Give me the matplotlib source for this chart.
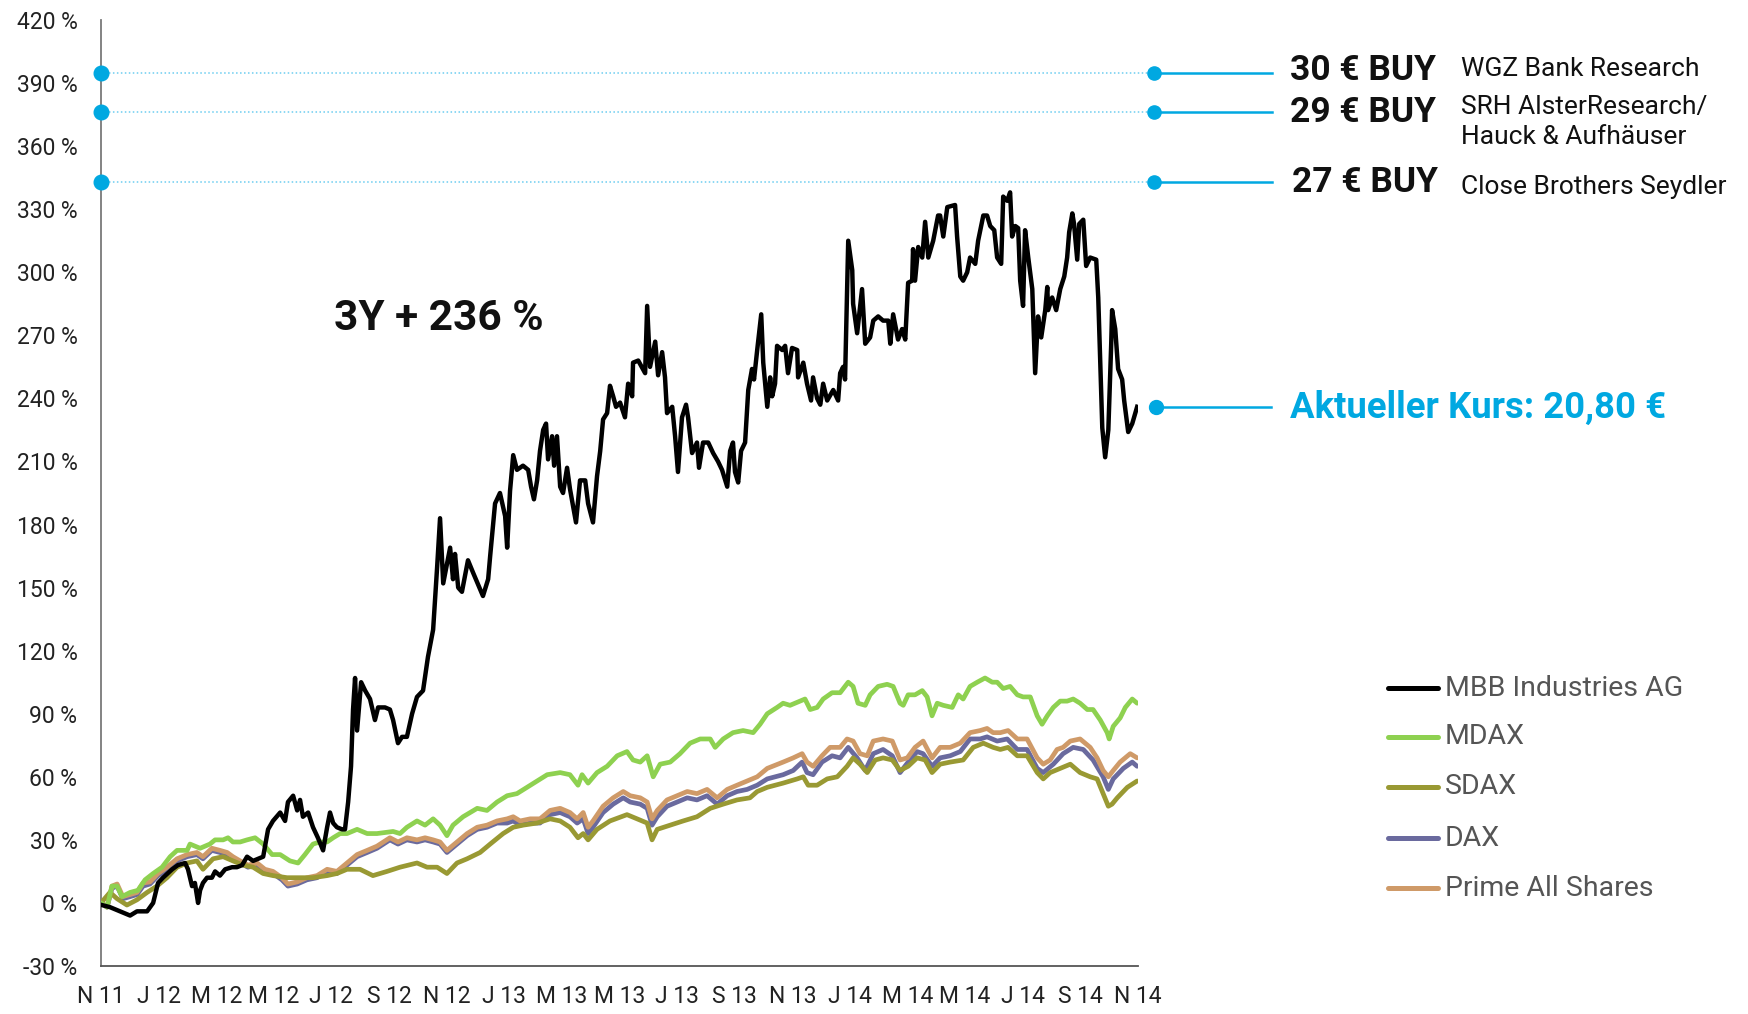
import matplotlib
matplotlib.use("Agg")
import matplotlib.pyplot as plt
from matplotlib.lines import Line2D

plt.rcParams['font.family'] = ['Roboto', 'DejaVu Sans']

# ---------------- data (months since Nov 2011, performance in %) ----------------
mbb_t = [0.03, 0.31, 0.66, 1.01, 1.25, 1.60, 1.81, 1.98, 2.15, 2.47, 2.67, 2.92, 3.02, 3.16, 3.26, 3.37,
         3.44, 3.54, 3.68, 3.85, 3.96, 4.13, 4.31, 4.55, 4.72, 4.90, 5.07, 5.28, 5.63, 5.80, 5.97, 6.22,
         6.39, 6.49, 6.67, 6.81, 6.91, 7.01, 7.19, 7.36, 7.53, 7.71, 7.85, 7.95, 8.06, 8.19, 8.37, 8.47,
         8.58, 8.68, 8.75, 8.82, 8.89, 9.03, 9.17, 9.34, 9.51, 9.62, 9.86, 10.03, 10.14, 10.31, 10.45,
         10.62, 10.80, 10.97, 11.18, 11.35, 11.53, 11.67, 11.77, 11.88, 12.12, 12.22, 12.29, 12.40, 12.53,
         12.74, 12.92, 13.26, 13.44, 13.51, 13.68, 13.85, 14.03, 14.10, 14.20, 14.31, 14.44, 14.65, 14.83,
         14.93, 15.03, 15.14, 15.24, 15.35, 15.45, 15.52, 15.66, 15.73, 15.83, 15.94, 16.04, 16.18, 16.28,
         16.49, 16.63, 16.81, 16.91, 17.08, 17.22, 17.33, 17.43, 17.57, 17.67, 17.78, 17.88, 18.02, 18.19,
         18.30, 18.44, 18.47, 18.65, 18.89, 18.96, 19.06, 19.24, 19.34, 19.48, 19.58, 19.65, 19.83, 19.93,
         20.03, 20.17, 20.31, 20.38, 20.52, 20.69, 20.76, 20.90, 21.08, 21.25, 21.42, 21.56, 21.74, 21.84,
         21.94, 22.01, 22.12, 22.22, 22.36, 22.47, 22.60, 22.67, 22.78, 22.92, 22.99, 23.13, 23.23, 23.30,
         23.40, 23.47, 23.65, 23.75, 23.85, 23.99, 24.17, 24.20, 24.38, 24.51, 24.65, 24.72, 24.86, 24.97,
         25.07, 25.21, 25.42, 25.59, 25.66, 25.76, 25.83, 25.94, 26.08, 26.11, 26.25, 26.42, 26.53, 26.70,
         26.81, 26.98, 27.15, 27.33, 27.40, 27.50, 27.67, 27.81, 27.92, 28.02, 28.16, 28.19, 28.26, 28.37,
         28.51, 28.61, 28.72, 28.89, 29.06, 29.13, 29.24, 29.38, 29.65, 29.72, 29.83, 29.93, 30.07, 30.17,
         30.35, 30.45, 30.63, 30.76, 30.87, 31.01, 31.11, 31.25, 31.32, 31.46, 31.56, 31.63, 31.74, 31.84,
         31.91, 32.01, 32.08, 32.19, 32.33, 32.43, 32.53, 32.64, 32.78, 32.85, 32.88, 33.02, 33.16, 33.30,
         33.44, 33.54, 33.61, 33.72, 33.78, 33.89, 33.96, 34.10, 34.20, 34.34, 34.55, 34.62, 34.76, 34.86,
         34.97, 35.07, 35.10, 35.21, 35.31, 35.45, 35.52, 35.66, 35.80, 35.97]
mbb_v = [-1, -2, -4, -6, -4, -4, 0, 9.5, 12, 16, 18, 19, 16, 8, 9.5, 0,
         6, 9.5, 12, 12, 15, 13, 16, 17, 17, 18, 22, 20, 22, 35, 39, 43,
         39, 48, 51, 44, 49, 41, 43, 36, 31, 25, 36, 43, 38, 36, 35, 35,
         48, 65, 92, 107, 82, 105, 101, 97, 87, 93, 93, 92, 87, 76, 79,
         79, 90, 98, 101, 117, 130, 160, 183, 152, 169, 154, 166, 150, 148,
         163, 157, 146, 154, 165, 190, 195, 184, 169, 196, 213, 206, 208, 206,
         198, 192, 201, 215, 225, 228, 211, 222, 208, 222, 198, 195, 207, 197,
         181, 201, 201, 190, 181, 203, 215, 230, 233, 246, 241, 236, 238, 231,
         247, 241, 257, 258, 252, 284, 255, 267, 251, 262, 250, 233, 236, 222,
         205, 231, 237, 231, 214, 219, 207, 219, 219, 214, 210, 206, 198, 215,
         219, 205, 200, 215, 219, 244, 254, 249, 263, 280, 257, 236, 250, 241,
         247, 265, 263, 265, 252, 264, 263, 250, 257, 247, 239, 250, 240, 237,
         247, 239, 244, 239, 252, 255, 249, 315, 301, 285, 271, 292, 266, 269,
         277, 279, 277, 277, 266, 280, 268, 273, 268, 295, 296, 311, 296, 312,
         307, 324, 307, 315, 327, 327, 317, 331, 332, 317, 298, 296, 300, 307,
         304, 315, 327, 327, 322, 320, 307, 304, 336, 334, 338, 317, 322, 321,
         296, 284, 320, 307, 292, 252, 279, 269, 282, 293, 282, 288, 282, 292,
         298, 307, 319, 328, 323, 306, 323, 325, 303, 307, 306, 288, 226, 212,
         225, 266, 282, 273, 254, 249, 239, 224, 228, 236]

mdax_t = [0.00, 0.21, 0.38, 0.56, 0.73, 1.01, 1.28, 1.53, 1.81, 2.12, 2.40, 2.64, 2.99, 3.09, 3.44, 3.78,
          3.96, 4.24, 4.41, 4.58, 4.83, 5.07, 5.35, 5.63, 5.94, 6.22, 6.56, 6.84, 7.08, 7.36, 7.60, 7.85,
          8.06, 8.30, 8.54, 8.89, 9.24, 9.58, 10.14, 10.38, 10.62, 10.97, 11.25, 11.53, 11.77, 12.01,
          12.22, 12.57, 13.06, 13.40, 13.75, 14.10, 14.44, 14.79, 15.14, 15.49, 15.94, 16.28, 16.56, 16.70,
          16.91, 17.22, 17.57, 17.92, 18.26, 18.47, 18.72, 18.96, 19.17, 19.41, 19.76, 20.10, 20.45, 20.80,
          21.15, 21.32, 21.60, 21.94, 22.29, 22.64, 22.88, 23.13, 23.47, 23.68, 23.92, 24.27, 24.44, 24.62,
          24.86, 25.07, 25.38, 25.66, 25.94, 26.11, 26.28, 26.53, 26.70, 26.98, 27.29, 27.50, 27.74, 27.85,
          28.02, 28.26, 28.51, 28.68, 28.85, 29.03, 29.24, 29.55, 29.76, 29.93, 30.17, 30.42, 30.69, 30.94,
          31.11, 31.32, 31.56, 31.81, 32.01, 32.26, 32.50, 32.67, 32.85, 33.06, 33.30, 33.54, 33.75, 33.99,
          34.24, 34.44, 34.69, 34.93, 35.00, 35.14, 35.38, 35.56, 35.80, 35.97]
mdax_v = [0, -2, 8, 8, 3, 5, 6, 11, 14, 17, 22, 25, 25, 28, 26, 28,
          30, 30, 31, 29, 29, 30, 31, 28, 23, 23, 20, 19, 23, 28, 29, 29,
          31, 33, 33, 35, 33, 33, 34, 33, 36, 39, 37, 40, 37, 32,
          37, 41, 45, 44, 48, 51, 52, 55, 58, 61, 62, 61, 56, 61,
          57, 62, 65, 70, 72, 68, 67, 70, 60, 66, 67, 71, 76, 78,
          78, 74, 78, 81, 82, 81, 85, 90, 93, 95, 94, 96, 97, 92,
          93, 97, 100, 100, 105, 103, 95, 94, 99, 103, 104, 103, 95, 94,
          99, 99, 101, 98, 89, 95, 94, 93, 99, 97, 103, 105, 107, 105,
          105, 102, 103, 99, 98, 98, 89, 85, 89, 93, 96, 96, 97, 95,
          92, 92, 87, 81, 78, 84, 88, 93, 97, 95]

sdax_t = [0.00, 0.31, 0.56, 0.90, 1.25, 1.60, 1.94, 2.29, 2.64, 2.99, 3.33, 3.54, 3.89, 4.24, 4.58, 4.93,
          5.28, 5.63, 5.97, 6.46, 6.91, 7.36, 7.85, 8.19, 8.54, 8.99, 9.44, 9.93, 10.38, 10.97, 11.32, 11.67,
          12.01, 12.36, 12.71, 13.16, 13.51, 13.96, 14.31, 14.65, 15.14, 15.59, 15.94, 16.28, 16.56, 16.74,
          16.91, 17.22, 17.67, 18.26, 18.61, 18.96, 19.13, 19.31, 19.76, 20.21, 20.69, 21.15, 21.60, 22.08,
          22.53, 22.78, 23.13, 23.68, 24.17, 24.38, 24.55, 24.86, 25.21, 25.56, 25.90, 26.11, 26.35, 26.60,
          26.88, 27.15, 27.47, 27.74, 28.02, 28.33, 28.61, 28.85, 29.13, 29.48, 29.93, 30.28, 30.63, 30.97,
          31.22, 31.49, 31.81, 32.15, 32.50, 32.71, 32.95, 33.30, 33.65, 33.99, 34.34, 34.58, 34.79, 34.97,
          35.10, 35.28, 35.63, 35.97]
sdax_v = [0, 5, 2, -1, 1.5, 5, 8, 12, 17, 19, 20, 16, 21, 22, 20, 18,
          17, 14, 13, 12, 12, 12, 13, 14, 16, 16, 13, 15, 17, 19, 17, 17,
          14, 19, 21, 24, 28, 33, 36, 37, 38, 40, 39, 36, 31, 33,
          30, 35, 39, 42, 40, 38, 30, 35, 37, 39, 41, 45, 47, 49,
          50, 53, 55, 57, 59, 60, 56, 56, 59, 60, 65, 69, 66, 62,
          68, 69, 68, 63, 65, 69, 68, 62, 66, 67, 68, 74, 76, 74,
          73, 74, 70, 70, 62, 59, 62, 64, 66, 62, 60, 59, 52, 46,
          47, 50, 55, 58]

prime_t = [0.00, 0.21, 0.38, 0.56, 0.76, 1.01, 1.25, 1.46, 1.70, 1.98, 2.29, 2.64, 2.99, 3.33, 3.54, 3.85,
           4.13, 4.38, 4.58, 4.83, 5.10, 5.42, 5.69, 5.97, 6.28, 6.49, 6.81, 7.15, 7.50, 7.85, 8.19, 8.54,
           8.89, 9.24, 9.58, 10.03, 10.31, 10.62, 10.97, 11.25, 11.53, 11.77, 12.01, 12.36, 12.71, 13.06,
           13.40, 13.75, 14.10, 14.31, 14.55, 14.90, 15.24, 15.59, 15.94, 16.28, 16.53, 16.74, 16.91, 17.08,
           17.43, 17.78, 18.13, 18.37, 18.72, 18.96, 19.13, 19.31, 19.65, 20.00, 20.35, 20.69, 21.04, 21.39,
           21.74, 22.08, 22.43, 22.78, 23.13, 23.68, 24.03, 24.34, 24.51, 24.72, 25.03, 25.31, 25.66, 25.90,
           26.11, 26.35, 26.60, 26.81, 27.15, 27.47, 27.74, 27.99, 28.26, 28.54, 28.85, 29.13, 29.48, 29.83,
           30.17, 30.52, 30.76, 30.97, 31.22, 31.49, 31.81, 32.15, 32.50, 32.71, 32.95, 33.19, 33.40, 33.65,
           33.99, 34.34, 34.58, 34.79, 34.97, 35.14, 35.38, 35.73, 35.97]
prime_v = [0, -2, 8, 9, 3, 4, 5, 9.5, 10, 14, 17, 21, 23, 24, 22, 26,
           25, 24, 22, 20, 18, 19, 16, 15, 12, 9, 10, 12, 13, 16, 15, 19,
           23, 25, 27, 31, 29, 31, 30, 31, 30, 29, 25, 29, 33, 36,
           37, 39, 40, 41, 39, 40, 40, 44, 45, 43, 40, 43, 36, 39,
           46, 50, 53, 51, 50, 48, 40, 44, 49, 51, 53, 52, 54, 50,
           54, 56, 58, 60, 64, 67, 69, 71, 67, 65, 70, 74, 74, 78,
           77, 71, 70, 77, 78, 77, 68, 69, 74, 77, 69, 74, 74, 76,
           81, 82, 83, 81, 81, 82, 78, 78, 69, 66, 68, 73, 74, 77,
           78, 74, 69, 63, 60, 63, 67, 71, 69]

dax_t = [0.00, 0.21, 0.38, 0.56, 0.76, 1.01, 1.25, 1.46, 1.70, 1.98, 2.29, 2.64, 2.99, 3.33, 3.54, 3.85,
         4.13, 4.38, 4.58, 4.83, 5.10, 5.42, 5.69, 5.97, 6.28, 6.49, 6.81, 7.15, 7.50, 7.85, 8.19, 8.54,
         8.89, 9.24, 9.58, 10.03, 10.31, 10.62, 10.97, 11.25, 11.53, 11.77, 12.01, 12.36, 12.71, 13.06,
         13.40, 13.75, 14.10, 14.31, 14.55, 14.90, 15.24, 15.59, 15.94, 16.28, 16.53, 16.74, 16.91, 17.08,
         17.43, 17.78, 18.13, 18.37, 18.72, 18.96, 19.13, 19.31, 19.65, 20.00, 20.35, 20.69, 21.04, 21.39,
         21.74, 22.08, 22.43, 22.78, 23.13, 23.68, 24.03, 24.34, 24.51, 24.72, 25.03, 25.38, 25.66, 25.94,
         26.25, 26.53, 26.81, 27.15, 27.47, 27.74, 28.02, 28.33, 28.54, 28.85, 29.13, 29.48, 29.83, 30.17,
         30.52, 30.76, 31.11, 31.46, 31.81, 32.15, 32.50, 32.71, 33.06, 33.40, 33.75, 34.10, 34.44, 34.79,
         34.97, 35.14, 35.49, 35.80, 35.97]
dax_v = [0, -2, 7, 8, 2, 3, 4, 8, 9, 13, 16, 20, 22, 23, 21, 25,
         24, 23, 21, 19, 17, 18, 15, 14, 11, 8, 9, 11, 12, 15, 14, 18,
         22, 24, 26, 30, 28, 30, 29, 30, 29, 28, 24, 28, 32, 35,
         36, 38, 38, 39, 37, 38, 38, 42, 43, 41, 38, 40, 33, 36,
         43, 47, 50, 48, 47, 45, 37, 41, 46, 48, 50, 49, 51, 47,
         51, 53, 54, 56, 59, 61, 63, 67, 62, 61, 67, 70, 69, 74,
         69, 63, 71, 73, 70, 62, 67, 72, 71, 65, 69, 70, 72, 78,
         78, 79, 77, 78, 73, 73, 64, 62, 66, 71, 74, 73, 68, 60,
         54, 59, 64, 67, 65]

series_names = ["MBB Industries AG", "MDAX", "SDAX", "DAX", "Prime All Shares"]

x_ticks = list(range(0, 37, 2))
x_labels = ["N 11", "J 12", "M 12", "M 12", "J 12", "S 12", "N 12", "J 13", "M 13", "M 13",
            "J 13", "S 13", "N 13", "J 14", "M 14", "M 14", "J 14", "S 14", "N 14"]
y_ticks = list(range(-30, 421, 30))

target_levels = [395, 376, 343]
target_prices = ["30 € BUY", "29 € BUY", "27 € BUY"]
target_sources = ["WGZ Bank Research", "SRH AlsterResearch/\nHauck & Aufhäuser", "Close Brothers Seydler"]
current_level = 236
current_text = "Aktueller Kurs: 20,80 €"
headline = "3Y + 236 %"

# ---------------- styling ----------------
W, H = 1749, 1014
fig = plt.figure(figsize=(W / 100, H / 100), dpi=100)
ax = fig.add_axes([101 / W, 1 - 966 / H, (1138 - 101) / W, (966 - 20) / H])

col_mbb = "#000000"
col_mdax = "#8ED150"
col_sdax = "#999933"
col_dax = "#6A6A9E"
col_prime = "#CF9A68"
blue = "#00A8E1"
dot_blue = "#6CCDF0"

lw = 3.4
l_dax, = ax.plot(dax_t, dax_v, color=col_dax, lw=lw, zorder=2, solid_capstyle='round', solid_joinstyle='round')
l_prime, = ax.plot(prime_t, prime_v, color=col_prime, lw=lw, zorder=3, solid_capstyle='round', solid_joinstyle='round')
l_sdax, = ax.plot(sdax_t, sdax_v, color=col_sdax, lw=lw, zorder=4, solid_capstyle='round', solid_joinstyle='round')
l_mdax, = ax.plot(mdax_t, mdax_v, color=col_mdax, lw=lw, zorder=5, solid_capstyle='round', solid_joinstyle='round')
l_mbb, = ax.plot(mbb_t, mbb_v, color=col_mbb, lw=3.2, zorder=6, solid_joinstyle='round')

ax.set_xlim(0, 36)
ax.set_ylim(-30, 420)
ax.set_xticks(x_ticks)
ax.set_xticklabels(x_labels)
ax.set_yticks(y_ticks)
ax.set_yticklabels([f"{v} %" for v in y_ticks])
ax.tick_params(axis='both', length=0, labelsize=16.5, colors="#222222")
ax.tick_params(axis='y', pad=17)
ax.tick_params(axis='x', pad=14)
for s in ["top", "right"]:
    ax.spines[s].set_visible(False)
ax.spines["left"].set_color("#7a7a7a")
ax.spines["left"].set_linewidth(1.3)
ax.spines["bottom"].set_color("#555555")
ax.spines["bottom"].set_linewidth(1.3)

# headline
ax.text(8.1, 278, headline, fontsize=30.5, fontweight='bold', color="#111111", ha='left', va='center')

# analyst targets
x_right_marker = 36.55
x_line_end = 40.66
for lvl in target_levels:
    ax.plot([0, x_right_marker], [lvl, lvl], color=dot_blue, lw=1.1, ls=(0, (1, 1.6)),
            clip_on=False, zorder=1)
    ax.plot([x_right_marker, x_line_end], [lvl, lvl], color=blue, lw=1.8, clip_on=False, zorder=7)
    ax.plot([0], [lvl], 'o', color=blue, ms=10.5, clip_on=False, zorder=8)
    ax.plot([x_right_marker], [lvl], 'o', color=blue, ms=9.5, clip_on=False, zorder=8)


def fx(px):
    return px / W


def fy(py):
    return 1 - py / H


fig.text(fx(1290), fy(70), target_prices[0], fontsize=25.5, fontweight='bold', color="#111111", va='center')
fig.text(fx(1290), fy(113), target_prices[1], fontsize=25.5, fontweight='bold', color="#111111", va='center')
fig.text(fx(1292), fy(182), target_prices[2], fontsize=25.5, fontweight='bold', color="#111111", va='center')
src_lines = target_sources[1].split("\n")
fig.text(fx(1461), fy(69), target_sources[0], fontsize=19, color="#111111", va='center')
fig.text(fx(1461), fy(107), src_lines[0], fontsize=19, color="#111111", va='center')
fig.text(fx(1461), fy(137), src_lines[1], fontsize=19, color="#111111", va='center')
fig.text(fx(1461), fy(187), target_sources[2], fontsize=19, color="#111111", va='center')

# current price
ax.plot([36.63, 40.6], [current_level, current_level], color=blue, lw=1.8, clip_on=False, zorder=7)
ax.plot([36.63], [current_level], 'o', color=blue, ms=10, clip_on=False, zorder=8)
fig.text(fx(1290), fy(408), current_text, fontsize=26.3, fontweight='bold', color=blue, va='center')

# legend (manual)
handles = [l_mbb, l_mdax, l_sdax, l_dax, l_prime]
leg_y = [688, 737, 787, 838, 888]
for h, name, yy in zip(handles, series_names, leg_y):
    fig.add_artist(Line2D([fx(1388), fx(1438)], [fy(yy), fy(yy)], color=h.get_color(),
                          lw=3.6, solid_capstyle='round', transform=fig.transFigure))
    fig.text(fx(1445), fy(yy), name, fontsize=20.5, color="#555555", va='center')

fig.savefig("out.png", dpi=100)
